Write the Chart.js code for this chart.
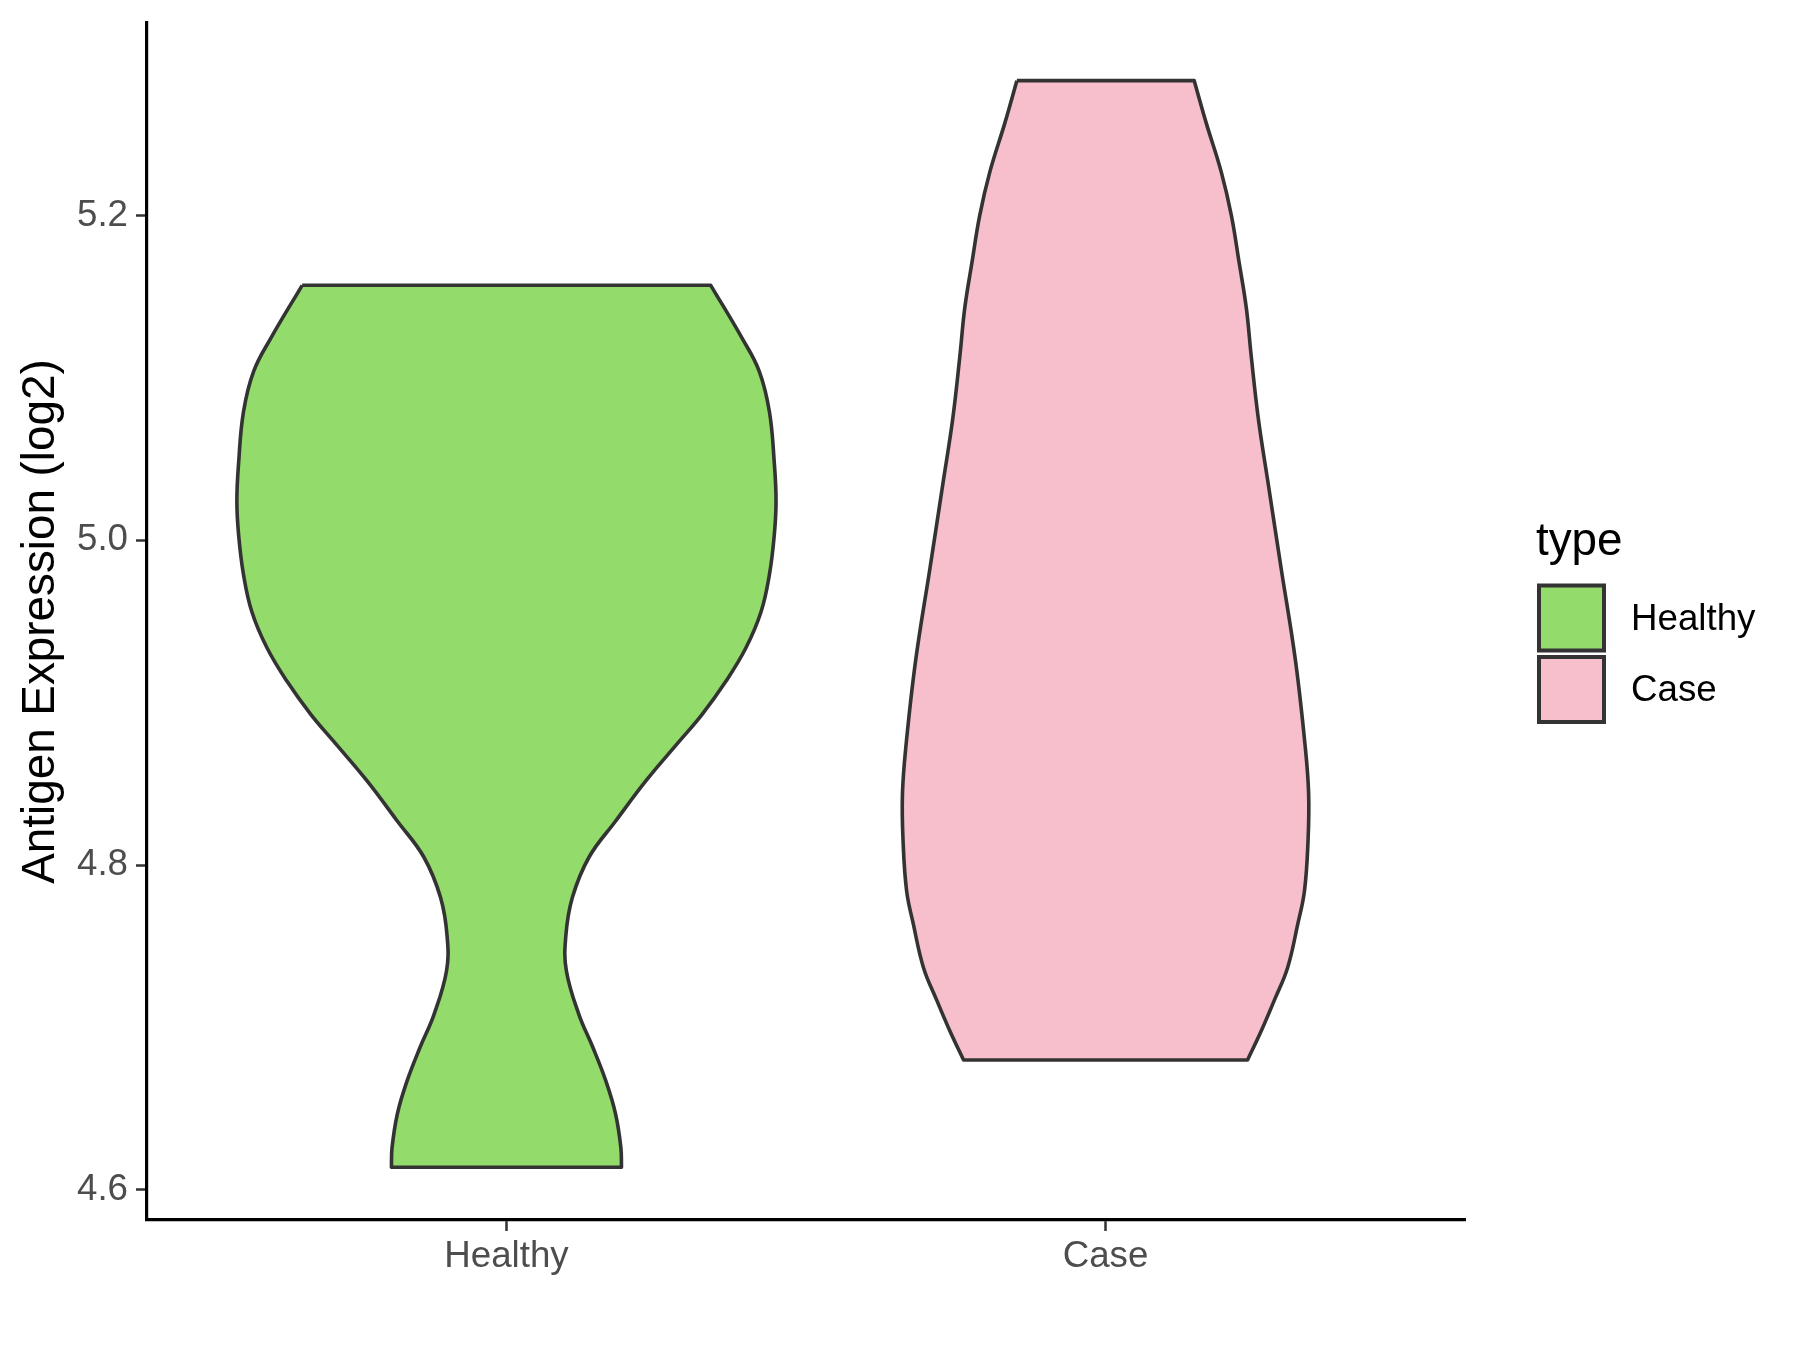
<!DOCTYPE html>
<html>
<head>
<meta charset="utf-8">
<title>Antigen Expression violin</title>
<script src="https://cdn.jsdelivr.net/npm/chart.js@4.4.1/dist/chart.umd.min.js"></script>
<style>
  html, body { margin: 0; padding: 0; background: #ffffff; }
  #wrap { width: 1800px; height: 1350px; }
</style>
</head>
<body>
<div id="wrap"><canvas id="violinChart" width="1800" height="1350"></canvas></div>
<script>
const categories = ['Healthy', 'Case'];
const yTicks = [4.6, 4.8, 5.0, 5.2];
const legendTitle = 'type';
const yTitle = 'Antigen Expression (log2)';

// violin outlines, top to bottom (value, half width in category units)
const healthyY = [5.157, 5.124, 5.104, 5.079, 5.048, 5.024, 5.003, 4.979, 4.956, 4.934, 4.913, 4.893, 4.876,
                  4.852, 4.827, 4.805, 4.780, 4.756, 4.735, 4.708, 4.688, 4.667, 4.647, 4.626, 4.614];
const healthyHalf = [0.341, 0.394, 0.422, 0.439, 0.447, 0.450, 0.447, 0.439, 0.425, 0.400, 0.366, 0.327, 0.288,
                     0.233, 0.182, 0.138, 0.110, 0.099, 0.100, 0.121, 0.144, 0.166, 0.182, 0.191, 0.192];
const caseY = [5.283, 5.257, 5.227, 5.200, 5.171, 5.143, 5.114, 5.075, 5.036, 4.983,
               4.926, 4.874, 4.844, 4.815, 4.784, 4.764, 4.737, 4.717, 4.698, 4.680];
const caseHalf = [0.148, 0.168, 0.193, 0.210, 0.223, 0.235, 0.243, 0.255, 0.271, 0.293,
                  0.317, 0.333, 0.339, 0.338, 0.332, 0.321, 0.304, 0.282, 0.260, 0.237];

const fillColors = ['#93DB6A', '#F7BFCB'];
const outline = '#333333';
const fontFamily = "Arial, 'Liberation Sans', Helvetica, sans-serif";

// closed outline: down the left side, up the right side; corners doubled so the
// flat top and bottom edges stay straight under the curve tension
function violinPoints(center, ys, halfs) {
    const left = ys.map((y, i) => ({ x: center - halfs[i], y: y }));
    const right = ys.map((y, i) => ({ x: center + halfs[i], y: y })).reverse();
    const n = left.length;
    return [left[0]].concat(left, [left[n - 1], right[0]], right, [right[n - 1], left[0], left[0]]);
}

const legendPlugin = {
    id: 'sideLegend',
    afterDraw(chart) {
        const ctx = chart.ctx;
        ctx.save();
        ctx.fillStyle = '#000000';
        ctx.textAlign = 'left';
        ctx.textBaseline = 'alphabetic';
        ctx.font = '45.8px ' + fontFamily;
        ctx.fillText(legendTitle, 1536, 555);

        ctx.font = '36.7px ' + fontFamily;
        ctx.textBaseline = 'middle';
        categories.forEach((name, i) => {
            const top = 585.5 + i * 71.5;
            ctx.fillStyle = fillColors[i];
            ctx.fillRect(1539, top, 65, 65);
            ctx.lineWidth = 4;
            ctx.strokeStyle = outline;
            ctx.strokeRect(1539, top, 65, 65);
            ctx.fillStyle = '#000000';
            ctx.fillText(name, 1631, top + 34);
        });
        ctx.restore();
    }
};

const ctx = document.getElementById('violinChart').getContext('2d');

new Chart(ctx, {
    type: 'scatter',
    data: {
        datasets: [
            {
                label: categories[0],
                data: violinPoints(1, healthyY, healthyHalf),
                showLine: true,
                fill: 'shape',
                backgroundColor: fillColors[0],
                borderColor: outline,
                borderWidth: 3.6,
                borderJoinStyle: 'round',
                pointRadius: 0,
                tension: 0.4
            },
            {
                label: categories[1],
                data: violinPoints(2, caseY, caseHalf),
                showLine: true,
                fill: 'shape',
                backgroundColor: fillColors[1],
                borderColor: outline,
                borderWidth: 3.6,
                borderJoinStyle: 'round',
                pointRadius: 0,
                tension: 0.4
            }
        ]
    },
    options: {
        responsive: false,
        animation: false,
        layout: { padding: { top: 23, right: 335, bottom: 0, left: 0 } },
        plugins: {
            legend: { display: false },
            tooltip: { enabled: false }
        },
        scales: {
            x: {
                type: 'linear',
                min: 0.4,
                max: 2.6,
                afterBuildTicks: s => { s.ticks = categories.map((c, i) => ({ value: i + 1 })); },
                afterFit: s => { s.height = 130; s.paddingLeft = 0; s.paddingRight = 0; },
                grid: { drawOnChartArea: false, tickLength: 11, tickWidth: 2.5, tickColor: outline },
                border: { display: true, color: '#000000', width: 3.2 },
                ticks: {
                    color: '#4D4D4D',
                    padding: 4,
                    maxRotation: 0,
                    font: { family: fontFamily, size: 36.7 },
                    callback: v => categories[Math.round(v) - 1]
                }
            },
            y: {
                min: 4.5815,
                max: 5.3185,
                afterBuildTicks: s => { s.ticks = yTicks.map(v => ({ value: v })); },
                afterFit: s => { s.width = 147; s.paddingTop = 0; s.paddingBottom = 0; },
                grid: { drawOnChartArea: false, tickLength: 11, tickWidth: 2.5, tickColor: outline },
                border: { display: true, color: '#000000', width: 3.2 },
                ticks: {
                    color: '#4D4D4D',
                    padding: 8,
                    font: { family: fontFamily, size: 36.7 },
                    callback: v => v.toFixed(1)
                },
                title: {
                    display: true,
                    text: yTitle,
                    color: '#000000',
                    padding: { top: 14, bottom: 0 },
                    font: { family: fontFamily, size: 45.8 }
                }
            }
        }
    },
    plugins: [legendPlugin]
});
</script>
</body>
</html>
